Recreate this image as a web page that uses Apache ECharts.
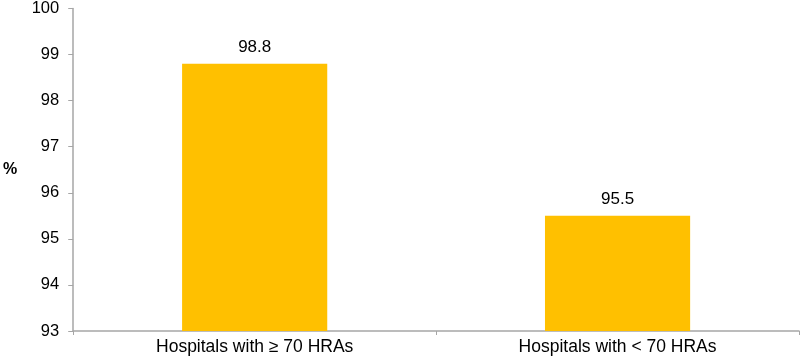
<!DOCTYPE html>
<html><head><meta charset="utf-8">
<script src="https://cdn.jsdelivr.net/npm/echarts@6/dist/echarts.min.js"></script>
<style>html,body{margin:0;padding:0;background:#fff}#c{width:800px;height:360px}</style>
</head><body><div id="c"></div>
<script>
const categories = ['Hospitals with \u2265 70 HRAs', 'Hospitals with < 70 HRAs'];
const values = [98.8, 95.5];
const yTicks = [93, 94, 95, 96, 97, 98, 99, 100];
const chart = echarts.init(document.getElementById('c'));
const font = 'Liberation Sans, Arial, sans-serif';
chart.setOption({
  animation: false,
  grid: {left: 64, right: 1, top: 7, bottom: 29, containLabel: false},
  xAxis: {
    type: 'category', data: categories,
    axisLine: {lineStyle: {color: '#a6a6a6', width: 1.5}},
    axisTick: {show: true, length: 4, lineStyle: {color: '#a6a6a6'}},
    axisLabel: {color: '#000', fontSize: 17.5, fontFamily: font, margin: 7}
  },
  yAxis: {
    type: 'value', min: yTicks[0], max: yTicks[yTicks.length - 1], interval: 1,
    name: '%', nameLocation: 'middle', nameRotate: 0, nameGap: 56,
    nameTextStyle: {color: '#000', fontSize: 16, fontWeight: 'bold', fontFamily: font},
    splitLine: {show: false},
    axisLine: {show: true, lineStyle: {color: '#a6a6a6', width: 1.5}},
    axisTick: {show: true, length: 5, lineStyle: {color: '#a6a6a6'}},
    axisLabel: {color: '#000', fontSize: 16.5, fontFamily: font, margin: 14}
  },
  series: [{
    type: 'bar', data: values, barWidth: '40%',
    itemStyle: {color: '#FFC000'},
    label: {show: true, position: 'top', distance: 8, color: '#000', fontSize: 17, fontFamily: font}
  }]
});
</script></body></html>
